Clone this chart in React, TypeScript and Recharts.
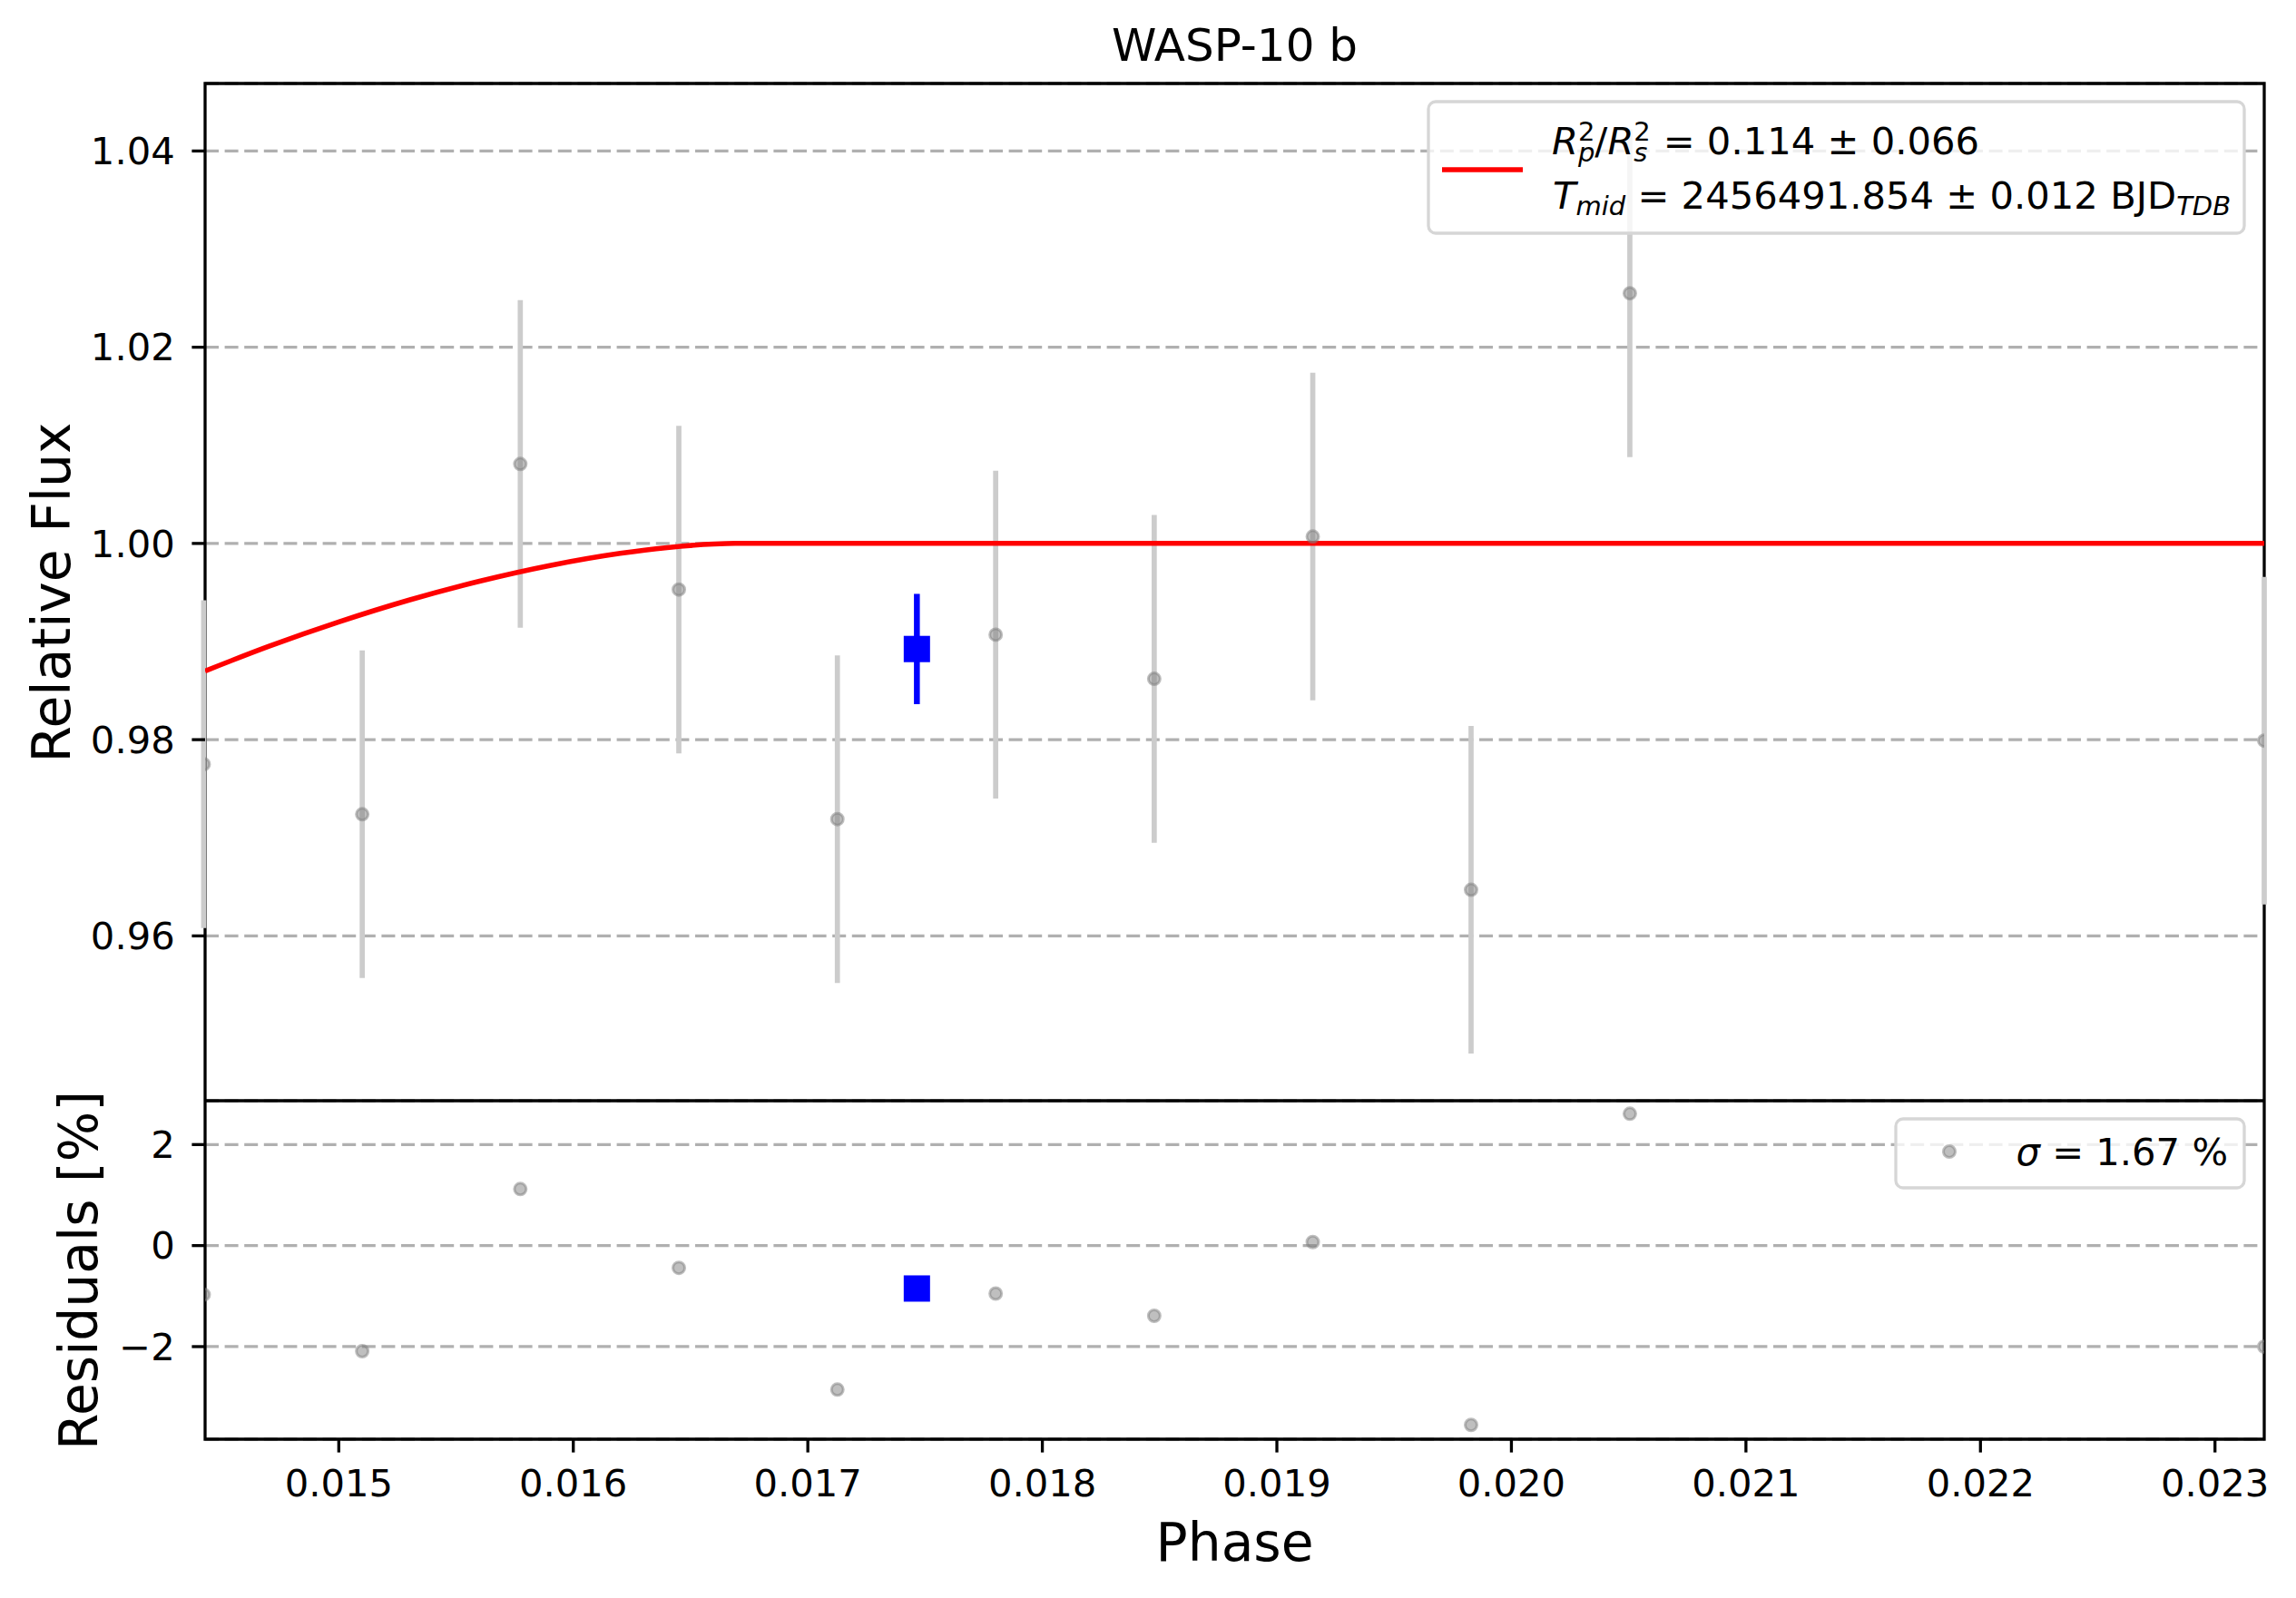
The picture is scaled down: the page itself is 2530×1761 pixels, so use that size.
import React from 'react';
import {
  ComposedChart,
  Scatter,
  Line,
  XAxis,
  YAxis,
  CartesianGrid,
  ErrorBar,
  ReferenceArea
} from 'recharts';

// unbinned points
const phase = [0.014424, 0.0151, 0.015774, 0.01645, 0.017126, 0.017801, 0.018477, 0.019153, 0.019828, 0.020505, 0.02321];
const flux = [0.9775, 0.9724, 1.0081, 0.9953, 0.9719, 0.9907, 0.9862, 1.0007, 0.9647, 1.0255, 0.9799];
const fluxErr = [0.0167, 0.0167, 0.0167, 0.0167, 0.0167, 0.0167, 0.0167, 0.0167, 0.0167, 0.0167, 0.0167];
const residuals = [-0.97, -2.09, 1.12, -0.44, -2.85, -0.95, -1.39, 0.07, -3.55, 2.61, -2.0];

// binned point
const binPhase = [0.017465];
const binFlux = [0.98924];
const binErr = [0.00562];
const binResidual = [-0.85];

// transit model
const modelPhase = [0.01443, 0.0147, 0.015, 0.0153, 0.0156, 0.0159, 0.0162, 0.0164, 0.0166, 0.01669, 0.02322];
const modelFlux = [0.987, 0.9895, 0.992, 0.99423, 0.99615, 0.99775, 0.99899, 0.99958, 0.99994, 1.0, 1.0];

const phaseTicks = [0.015, 0.016, 0.017, 0.018, 0.019, 0.02, 0.021, 0.022, 0.023];
const fluxTicks = [0.96, 0.98, 1.0, 1.02, 1.04];
const residTicks = [-2, 0, 2];

const X_DOMAIN = [0.01443, 0.02321];
const FLUX_DOMAIN = [0.9432, 1.04688];
const RESID_DOMAIN = [-3.833, 2.868];

const mainPts = phase.map((p, i) => ({ phase: p, flux: flux[i], err: fluxErr[i] }));
const binPts = binPhase.map((p, i) => ({ phase: p, flux: binFlux[i], err: binErr[i] }));
const modelPts = modelPhase.map((p, i) => ({ phase: p, flux: modelFlux[i] }));
const residPts = phase.map((p, i) => ({ phase: p, resid: residuals[i] }));
const binResidPts = binPhase.map((p, i) => ({ phase: p, resid: binResidual[i] }));

const FONT = 'DejaVu Sans';
const TICK = 41.7;
const LINE_W = 3.3;

const GrayDot = (props: any) => (
  <circle
    cx={props.cx}
    cy={props.cy}
    r={6.5}
    fill="#808080"
    fillOpacity={0.5}
    stroke="#808080"
    strokeOpacity={0.5}
    strokeWidth={3}
  />
);

const BlueSquare = (props: any) => (
  <rect x={props.cx - 14.5} y={props.cy - 14.5} width={29} height={29} fill="#0000ff" />
);

const tickStyle = { fill: '#000', fontSize: TICK, fontFamily: FONT };
const tickLineStyle = { stroke: '#000', strokeWidth: LINE_W };
const minus = (v: number) => (v < 0 ? '\u2212' + Math.abs(v) : String(v));

const App: React.FC = () => {
  return (
    <div
      style={{
        position: 'absolute',
        left: 0,
        top: 0,
        width: 2530,
        height: 1761,
        background: '#fff',
        fontFamily: FONT
      }}
    >
      <div style={{ position: 'absolute', left: 0, top: 0 }}>
        <ComposedChart width={2530} height={1213} margin={{ top: 92, right: 35, bottom: 0, left: 0 }}>
          <CartesianGrid horizontal vertical={false} stroke="#b0b0b0" strokeWidth={LINE_W} strokeDasharray="15 6.6" />
          <XAxis
            type="number"
            dataKey="phase"
            domain={X_DOMAIN}
            allowDataOverflow
            ticks={phaseTicks}
            hide
          />
          <YAxis
            type="number"
            dataKey="flux"
            domain={FLUX_DOMAIN}
            allowDataOverflow
            ticks={fluxTicks}
            width={226}
            tickSize={14.6}
            tickMargin={18.7}
            tick={tickStyle}
            tickLine={tickLineStyle}
            axisLine={false}
            tickFormatter={(v: number) => v.toFixed(2)}
          />
          <Scatter data={mainPts} dataKey="flux" shape={GrayDot} isAnimationActive={false}>
            <ErrorBar dataKey="err" direction="y" width={0} stroke="#cccccc" strokeWidth={5.7} />
          </Scatter>
          <Line
            data={modelPts}
            dataKey="flux"
            type="monotone"
            stroke="#ff0000"
            strokeWidth={5.5}
            dot={false}
            isAnimationActive={false}
          />
          <Scatter data={binPts} dataKey="flux" shape={BlueSquare} isAnimationActive={false}>
            <ErrorBar dataKey="err" direction="y" width={0} stroke="#0000ff" strokeWidth={6.5} />
          </Scatter>
          <ReferenceArea
            x1={X_DOMAIN[0]}
            x2={X_DOMAIN[1]}
            y1={FLUX_DOMAIN[0]}
            y2={FLUX_DOMAIN[1]}
            fill="none"
            fillOpacity={0}
            stroke="#000"
            strokeWidth={LINE_W}
            ifOverflow="visible"
          />
        </ComposedChart>
      </div>

      <div style={{ position: 'absolute', left: 0, top: 1213 }}>
        <ComposedChart width={2530} height={548} margin={{ top: 0, right: 35, bottom: 0, left: 0 }}>
          <CartesianGrid horizontal vertical={false} stroke="#b0b0b0" strokeWidth={LINE_W} strokeDasharray="15 6.6" />
          <XAxis
            type="number"
            dataKey="phase"
            domain={X_DOMAIN}
            allowDataOverflow
            ticks={phaseTicks}
            height={175}
            tickSize={14.6}
            tickMargin={18.8}
            tick={tickStyle}
            tickLine={tickLineStyle}
            axisLine={false}
            tickFormatter={(v: number) => v.toFixed(3)}
          />
          <YAxis
            type="number"
            dataKey="resid"
            domain={RESID_DOMAIN}
            allowDataOverflow
            ticks={residTicks}
            width={226}
            tickSize={14.6}
            tickMargin={18.7}
            tick={tickStyle}
            tickLine={tickLineStyle}
            axisLine={false}
            tickFormatter={minus}
          />
          <Scatter data={residPts} dataKey="resid" shape={GrayDot} isAnimationActive={false} />
          <Scatter data={binResidPts} dataKey="resid" shape={BlueSquare} isAnimationActive={false} />
          <ReferenceArea
            x1={X_DOMAIN[0]}
            x2={X_DOMAIN[1]}
            y1={RESID_DOMAIN[0]}
            y2={RESID_DOMAIN[1]}
            fill="none"
            fillOpacity={0}
            stroke="#000"
            strokeWidth={LINE_W}
            ifOverflow="visible"
          />
        </ComposedChart>
      </div>

      {/* title, axis labels and legends */}
      <svg
        width={2530}
        height={1761}
        style={{ position: 'absolute', left: 0, top: 0, pointerEvents: 'none' }}
        fontFamily={FONT}
      >
        <text x={1360.6} y={67} fontSize={50} textAnchor="middle" fill="#000">WASP-10 b</text>
        <text x={1360.6} y={1720} fontSize={58.3} textAnchor="middle" fill="#000">Phase</text>
        <text x={77} y={653} fontSize={58.3} textAnchor="middle" fill="#000" transform="rotate(-90 77 653)">
          Relative Flux
        </text>
        <text x={107} y={1400} fontSize={58.3} textAnchor="middle" fill="#000" transform="rotate(-90 107 1400)">
          Residuals [%]
        </text>

        <rect x={1574} y={112} width={899} height={145} rx={8} fill="#fff" fillOpacity={0.8} stroke="#d6d6d6" strokeWidth={3.3} />
        <line x1={1589} y1={187} x2={1678} y2={187} stroke="#ff0000" strokeWidth={5.5} />
        <text x={1710} y={170} fontSize={TICK} fill="#000">
          <tspan fontStyle="italic">R</tspan>
          <tspan fontSize={29} dy={-15}>2</tspan>
          <tspan fontSize={29} fontStyle="italic" dx={-18.5} dy={23}>p</tspan>
          <tspan dy={-8}>/</tspan>
          <tspan fontStyle="italic">R</tspan>
          <tspan fontSize={29} dy={-15}>2</tspan>
          <tspan fontSize={29} fontStyle="italic" dx={-18.5} dy={23}>s</tspan>
          <tspan dx={4} dy={-8}>{' = 0.114 \u00b1 0.066'}</tspan>
        </text>
        <text x={1711} y={230} fontSize={TICK} fill="#000">
          <tspan fontStyle="italic">T</tspan>
          <tspan fontSize={29} fontStyle="italic" dy={7}>mid</tspan>
          <tspan dy={-7}>{' = 2456491.854 \u00b1 0.012 BJD'}</tspan>
          <tspan fontSize={29} fontStyle="italic" dy={7}>TDB</tspan>
        </text>

        <rect x={2089} y={1233} width={384} height={76} rx={8} fill="#fff" fillOpacity={0.8} stroke="#d6d6d6" strokeWidth={3.3} />
        <circle cx={2148} cy={1269} r={6.5} fill="#808080" fillOpacity={0.5} stroke="#808080" strokeOpacity={0.5} strokeWidth={3} />
        <text x={2455} y={1284} fontSize={TICK} textAnchor="end" fill="#000">
          <tspan fontStyle="italic">{'\u03c3'}</tspan>
          <tspan>{' = 1.67 %'}</tspan>
        </text>
      </svg>
    </div>
  );
};

export default App;
